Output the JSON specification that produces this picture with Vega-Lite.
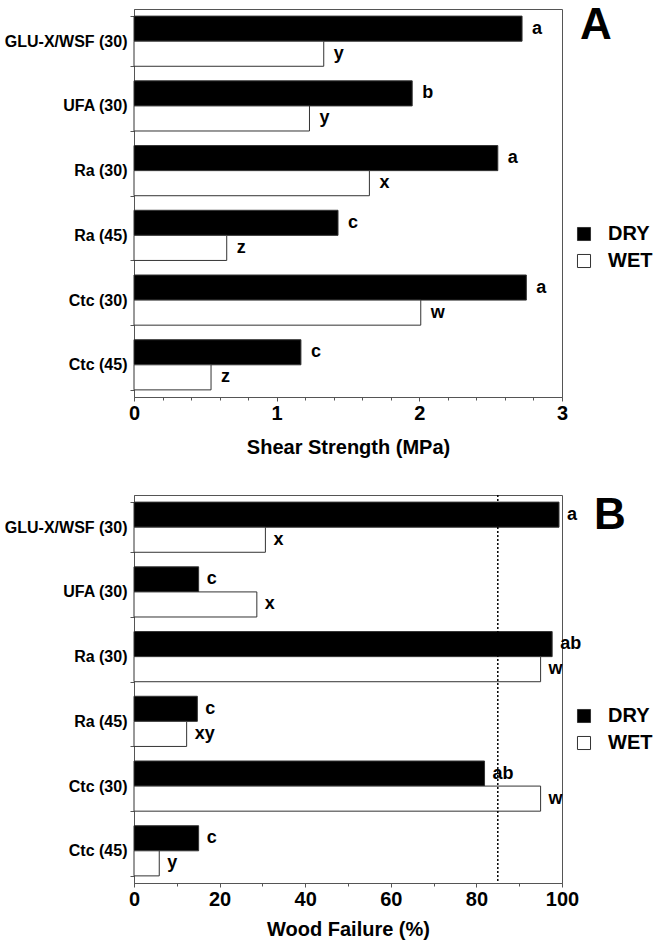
{
  "$schema": "https://vega.github.io/schema/vega-lite/v6.json",
  "padding": {"left": 3, "top": 0, "right": 0, "bottom": 0},
  "spacing": 28,
  "config": {
    "font": "Liberation Sans",
    "view": {"stroke": "#555", "strokeWidth": 1},
    "axis": {
      "labelFont": "Liberation Sans", "labelFontWeight": "bold", "labelColor": "black",
      "titleFont": "Liberation Sans", "titleFontWeight": "bold", "titleColor": "black",
      "domainColor": "#555", "tickColor": "#555", "grid": false
    },
    "legend": {
      "orient": "none", "title": null, "symbolType": "square", "symbolSize": 170,
      "symbolStrokeColor": "#333", "symbolStrokeWidth": 1, "labelFont": "Liberation Sans",
      "labelFontWeight": "bold", "labelFontSize": 20, "labelColor": "black", "rowPadding": 7, "labelOffset": 14
    }
  },
  "datasets": {
    "shear": [
      {"group": "GLU-X/WSF (30)", "cond": "DRY", "value": 2.72, "letter": "a"},
      {"group": "GLU-X/WSF (30)", "cond": "WET", "value": 1.33, "letter": "y"},
      {"group": "UFA (30)", "cond": "DRY", "value": 1.95, "letter": "b"},
      {"group": "UFA (30)", "cond": "WET", "value": 1.23, "letter": "y"},
      {"group": "Ra (30)", "cond": "DRY", "value": 2.55, "letter": "a"},
      {"group": "Ra (30)", "cond": "WET", "value": 1.65, "letter": "x"},
      {"group": "Ra (45)", "cond": "DRY", "value": 1.43, "letter": "c"},
      {"group": "Ra (45)", "cond": "WET", "value": 0.65, "letter": "z"},
      {"group": "Ctc (30)", "cond": "DRY", "value": 2.75, "letter": "a"},
      {"group": "Ctc (30)", "cond": "WET", "value": 2.01, "letter": "w"},
      {"group": "Ctc (45)", "cond": "DRY", "value": 1.17, "letter": "c"},
      {"group": "Ctc (45)", "cond": "WET", "value": 0.54, "letter": "z"}
    ],
    "wood": [
      {"group": "GLU-X/WSF (30)", "cond": "DRY", "value": 99.3, "letter": "a"},
      {"group": "GLU-X/WSF (30)", "cond": "WET", "value": 30.7, "letter": "x"},
      {"group": "UFA (30)", "cond": "DRY", "value": 15.1, "letter": "c"},
      {"group": "UFA (30)", "cond": "WET", "value": 28.7, "letter": "x"},
      {"group": "Ra (30)", "cond": "DRY", "value": 97.7, "letter": "ab"},
      {"group": "Ra (30)", "cond": "WET", "value": 95.0, "letter": "w"},
      {"group": "Ra (45)", "cond": "DRY", "value": 14.8, "letter": "c"},
      {"group": "Ra (45)", "cond": "WET", "value": 12.3, "letter": "xy"},
      {"group": "Ctc (30)", "cond": "DRY", "value": 81.9, "letter": "ab"},
      {"group": "Ctc (30)", "cond": "WET", "value": 95.0, "letter": "w"},
      {"group": "Ctc (45)", "cond": "DRY", "value": 15.1, "letter": "c"},
      {"group": "Ctc (45)", "cond": "WET", "value": 5.9, "letter": "y"}
    ]
  },
  "resolve": {"scale": {"x": "independent", "y": "independent", "fill": "independent"}, "legend": {"fill": "independent"}},
  "vconcat": [
    {
      "width": 428, "height": 388,
      "data": {"name": "shear"},
      "resolve": {"axis": {"x": "independent"}},
      "encoding": {
        "y": {"field": "group", "type": "nominal", "sort": ["GLU-X/WSF (30)", "UFA (30)", "Ra (30)", "Ra (45)", "Ctc (30)", "Ctc (45)"],
          "scale": {"paddingInner": 0.225, "paddingOuter": 0.11},
          "axis": {"title": null, "tickBand": "extent", "labelFontSize": 16, "tickSize": 4, "labelPadding": 3}}
      },
      "layer": [
        {
          "mark": {"type": "bar", "stroke": "#333", "strokeWidth": 1},
          "encoding": {
            "yOffset": {"field": "cond", "type": "nominal", "sort": ["DRY", "WET"], "scale": {"paddingInner": 0, "paddingOuter": 0}},
            "x": {"field": "value", "type": "quantitative", "scale": {"domain": [0, 3], "nice": false},
              "axis": {"orient": "bottom", "title": "Shear Strength (MPa)", "values": [0, 1, 2, 3], "format": "d",
                "labelFontSize": 20, "titleFontSize": 20, "tickSize": 4, "labelPadding": 2, "titlePadding": 14, "labelFlush": false}},
            "fill": {"field": "cond", "type": "nominal", "scale": {"domain": ["DRY", "WET"], "range": ["black", "white"]},
              "legend": {"legendX": 440, "legendY": 215}}
          }
        },
        {
          "mark": {"type": "text", "align": "left", "baseline": "middle", "dx": 10, "fontSize": 18, "fontWeight": "bold", "color": "black"},
          "encoding": {
            "yOffset": {"field": "cond", "type": "nominal", "sort": ["DRY", "WET"]},
            "x": {"field": "value", "type": "quantitative",
              "axis": {"orient": "bottom", "values": [0.2, 0.4, 0.6, 0.8, 1.2, 1.4, 1.6, 1.8, 2.2, 2.4, 2.6, 2.8],
                "labels": false, "domain": false, "title": null, "tickSize": 3}},
            "text": {"field": "letter"}
          }
        },
        {
          "data": {"values": [{"panel": "A", "group": "GLU-X/WSF (30)", "pos": 3}]},
          "mark": {"type": "text", "align": "center", "baseline": "middle", "dx": 34, "dy": -15, "fontSize": 44, "fontWeight": "bold", "color": "black"},
          "encoding": {
            "x": {"field": "pos", "type": "quantitative", "axis": null},
            "text": {"field": "panel"}
          }
        }
      ]
    },
    {
      "width": 428, "height": 388,
      "data": {"name": "wood"},
      "resolve": {"axis": {"x": "independent"}},
      "encoding": {
        "y": {"field": "group", "type": "nominal", "sort": ["GLU-X/WSF (30)", "UFA (30)", "Ra (30)", "Ra (45)", "Ctc (30)", "Ctc (45)"],
          "scale": {"paddingInner": 0.225, "paddingOuter": 0.11},
          "axis": {"title": null, "tickBand": "extent", "labelFontSize": 16, "tickSize": 4, "labelPadding": 3}}
      },
      "layer": [
        {
          "mark": {"type": "bar", "stroke": "#333", "strokeWidth": 1},
          "encoding": {
            "yOffset": {"field": "cond", "type": "nominal", "sort": ["DRY", "WET"], "scale": {"paddingInner": 0, "paddingOuter": 0}},
            "x": {"field": "value", "type": "quantitative", "scale": {"domain": [0, 100], "nice": false},
              "axis": {"orient": "bottom", "title": "Wood Failure (%)", "values": [0, 20, 40, 60, 80, 100], "format": "d",
                "labelFontSize": 20, "titleFontSize": 20, "tickSize": 4, "labelPadding": 2, "titlePadding": 10, "labelFlush": false}},
            "fill": {"field": "cond", "type": "nominal", "scale": {"domain": ["DRY", "WET"], "range": ["black", "white"]},
              "legend": {"legendX": 440, "legendY": 211}}
          }
        },
        {
          "mark": {"type": "text", "align": "left", "baseline": "middle", "dx": 8, "fontSize": 18, "fontWeight": "bold", "color": "black"},
          "encoding": {
            "yOffset": {"field": "cond", "type": "nominal", "sort": ["DRY", "WET"]},
            "x": {"field": "value", "type": "quantitative",
              "axis": {"orient": "bottom", "values": [10, 30, 50, 70, 90],
                "labels": false, "domain": false, "title": null, "tickSize": 3}},
            "text": {"field": "letter"}
          }
        },
        {
          "data": {"values": [{"line": 85}]},
          "mark": {"type": "rule", "strokeDash": [2, 2], "strokeWidth": 1.5, "color": "black"},
          "encoding": {"x": {"field": "line", "type": "quantitative", "axis": null}, "y": null}
        },
        {
          "data": {"values": [{"panel": "B", "group": "GLU-X/WSF (30)", "pos": 100}]},
          "mark": {"type": "text", "align": "center", "baseline": "middle", "dx": 48, "dy": -11, "fontSize": 44, "fontWeight": "bold", "color": "black"},
          "encoding": {
            "x": {"field": "pos", "type": "quantitative", "axis": null},
            "text": {"field": "panel"}
          }
        }
      ]
    }
  ]
}
